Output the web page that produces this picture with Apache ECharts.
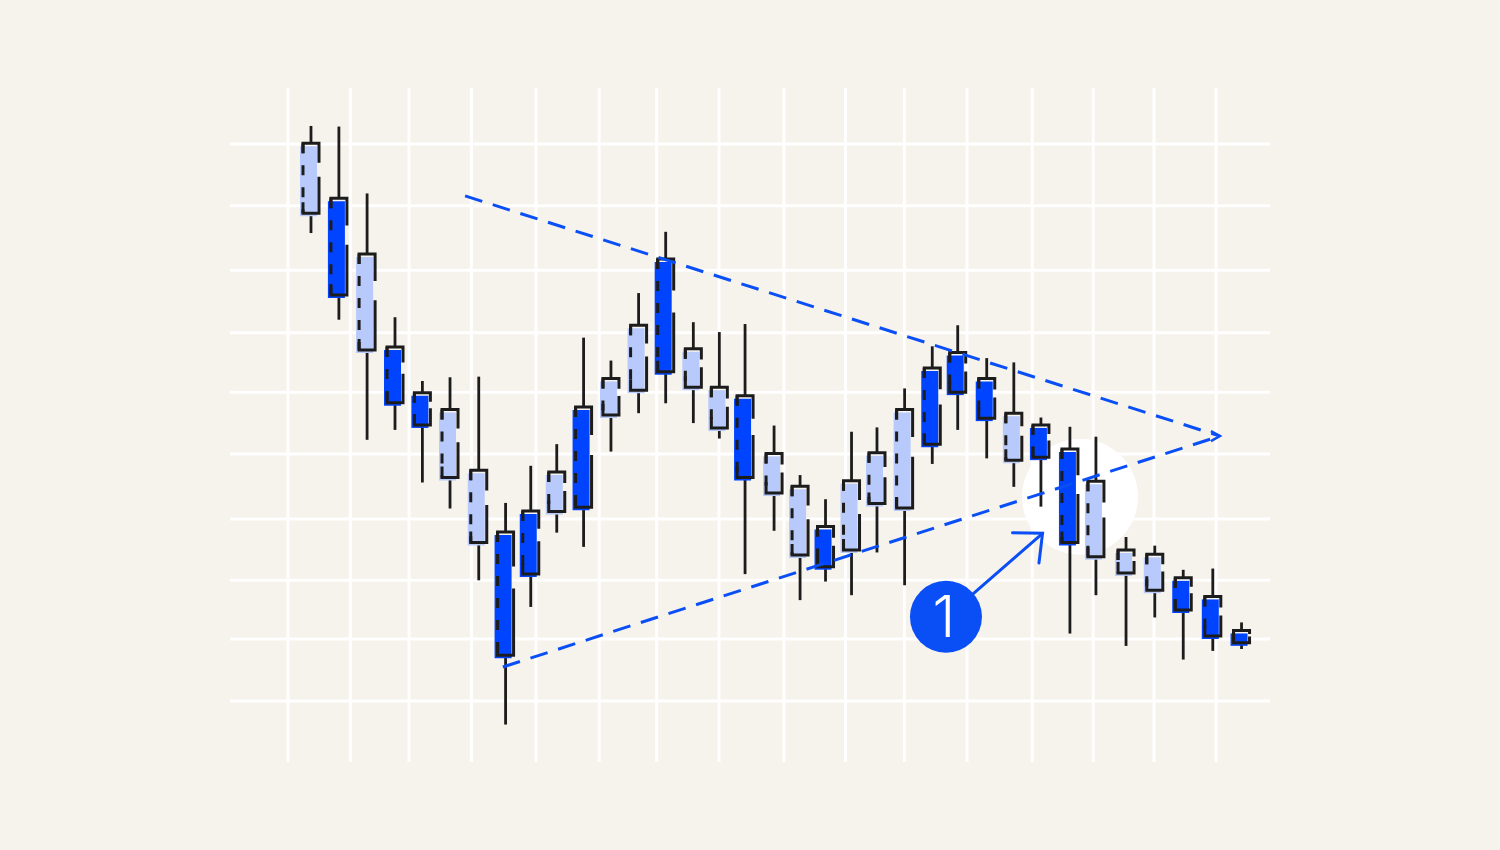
<!DOCTYPE html>
<html>
<head>
<meta charset="utf-8">
<script src="https://cdn.jsdelivr.net/npm/echarts@6/dist/echarts.min.js"></script>
<style>
  html, body { margin: 0; padding: 0; background: #f6f2ec; }
  #chart { width: 1500px; height: 850px; }
</style>
</head>
<body>
<div id="chart"></div>
<script>
// Time position of each trading session (sessions are not evenly spaced)
const sessionTimes = [1.00, 2.02, 3.05, 4.07, 5.07, 6.08, 7.13, 8.11, 9.03, 9.98,
                      10.96, 11.96, 12.97, 13.96, 14.97, 15.92, 16.86, 17.92, 18.87, 19.80,
                      20.75, 21.68, 22.69, 23.70, 24.63, 25.69, 26.68, 27.67, 28.73, 29.68,
                      30.78, 31.83, 32.87, 33.95, 35.00];
// OHLC prices per session
const opens  = [178.8, 181.2, 156.7, 157.2, 149.8, 136.1, 125.6, 127.3, 130.7, 130.6,
                147.5, 146.2, 150.2, 171.4, 150.7, 144.1, 149.3, 133.6, 123.6, 128.2,
                124.4, 131.9, 131.2, 153.8, 156.3, 152.1, 138.9, 144.6, 140.7, 123.3,
                120.7, 117.9, 119.9, 116.9, 111.4];
const closes = [190.1, 165.6, 172.2, 148.2, 144.6, 147.1, 137.3, 107.4, 120.5, 137.0,
                131.3, 152.1, 160.7, 153.2, 156.9, 150.7, 136.1, 140.0, 134.7, 121.7,
                135.6, 140.1, 147.1, 141.5, 149.9, 145.7, 146.5, 139.4, 125.6, 135.5,
                124.4, 123.7, 114.7, 110.5, 109.4];
const lows   = [175.6, 161.6, 142.2, 143.8, 135.3, 131.1, 119.5, 96.2, 115.2, 127.2,
                124.9, 140.3, 146.5, 148.1, 144.9, 142.4, 120.5, 127.5, 116.3, 119.3,
                117.1, 124.0, 118.7, 138.3, 143.8, 139.2, 134.6, 131.4, 110.9, 117.1,
                108.9, 113.5, 106.7, 108.1, 108.4];
const highs  = [192.9, 192.8, 182.0, 162.0, 151.7, 152.3, 152.4, 132.0, 138.0, 141.5,
                158.7, 155.0, 165.9, 175.8, 161.2, 159.6, 160.9, 144.5, 136.5, 132.6,
                143.5, 144.2, 150.5, 157.3, 160.7, 155.4, 154.7, 145.8, 144.3, 142.7,
                126.5, 125.1, 121.2, 121.4, 112.7];

// Grid line positions (time units / price units)
const gridTimes = [0.16, 2.44, 4.58, 6.86, 9.22, 11.53, 13.63, 15.91, 18.28, 20.53,
                   22.68, 24.97, 27.35, 29.58, 31.80, 34.07];
const gridPrices = [100.0, 110.0, 119.5, 129.4, 139.9, 149.9, 159.5, 169.6, 180.0, 190.0];

// Symmetrical triangle boundaries, meeting at the apex
const upperTrend = [[6.63, 181.6], [34.21, 142.8]];
const lowerTrend = [[8.01, 105.5], [34.21, 142.8]];

// Breakout highlight and numbered callout
const breakoutFocus = [29.10, 133.0];
const calloutCenter = [24.20, 113.6];
const calloutText = '1';
const arrowFrom = [25.19, 117.3];
const arrowTo = [27.73, 127.1];

const COLORS = {
  bg: '#f6f2ec',
  grid: '#ffffff',
  up: '#b8cafc',
  down: '#0044ff',
  ink: '#1c1c1c',
  accent: '#0a4ff5'
};

const X_MIN = -1.959, X_MAX = 36.04;
const Y_MIN = 90.15, Y_MAX = 199.03;

const candleData = sessionTimes.map((t, i) => [t, opens[i], closes[i], lows[i], highs[i]]);

function renderGridLine(vertical) {
  return function (params, api) {
    const v = api.value(0);
    const a = vertical ? api.coord([v, Y_MIN]) : api.coord([X_MIN, v]);
    const b = vertical ? api.coord([v, Y_MAX]) : api.coord([X_MAX, v]);
    return {
      type: 'line',
      shape: { x1: a[0], y1: a[1], x2: b[0], y2: b[1] },
      style: { stroke: COLORS.grid, lineWidth: 3 }
    };
  };
}

// Hand-drawn style candle: offset fill, outline with a broken right edge and dashed left edge
function renderCandle(params, api) {
  const x = api.value(0), o = api.value(1), c = api.value(2), l = api.value(3), h = api.value(4);
  const top = api.coord([x, Math.max(o, c)]);
  const bot = api.coord([x, Math.min(o, c)]);
  const hi = api.coord([x, h]);
  const lo = api.coord([x, l]);
  const cx = top[0];
  const L = cx - 8, R = cx + 8;
  const yT = top[1], yB = bot[1];
  const hgt = yB - yT;
  const fill = c >= o ? COLORS.up : COLORS.down;
  const stroke = { stroke: COLORS.ink, lineWidth: 3, fill: 'none', lineCap: 'butt', lineJoin: 'miter' };
  const gapStart = yT + hgt * 0.28;
  const gapLen = Math.min(22, Math.max(2, hgt * 0.2));
  return {
    type: 'group',
    children: [
      { type: 'line', shape: { x1: cx, y1: hi[1], x2: cx, y2: yT }, style: { stroke: COLORS.ink, lineWidth: 2.8 } },
      { type: 'line', shape: { x1: cx, y1: yB, x2: cx, y2: lo[1] }, style: { stroke: COLORS.ink, lineWidth: 2.8 } },
      { type: 'rect', shape: { x: cx - 11, y: yT + 3, width: 17, height: hgt }, style: { fill: fill } },
      { type: 'polyline', shape: { points: [[L, yT + 10], [L, yT], [R, yT], [R, gapStart]] }, style: stroke },
      { type: 'polyline', shape: { points: [[L, yB - 11], [L, yB], [R, yB], [R, gapStart + gapLen]] }, style: stroke },
      { type: 'line', shape: { x1: L, y1: yT, x2: L, y2: yB },
        style: { stroke: COLORS.ink, lineWidth: 3, lineDash: [10, 12] } }
    ]
  };
}

function renderFocus(params, api) {
  const p = api.coord([api.value(0), api.value(1)]);
  return { type: 'circle', shape: { cx: p[0], cy: p[1], r: 58 }, style: { fill: '#ffffff' } };
}

function renderCallout(params, api) {
  const c = api.coord(calloutCenter);
  const a = api.coord(arrowFrom);
  const b = api.coord(arrowTo);
  const apex = api.coord(upperTrend[1]);
  const dx = b[0] - a[0], dy = b[1] - a[1];
  const len = Math.hypot(dx, dy);
  const ux = -dx / len, uy = -dy / len;
  const ang = 42 * Math.PI / 180, arm = 30;
  const rot = (t) => [b[0] + arm * (ux * Math.cos(t) - uy * Math.sin(t)),
                      b[1] + arm * (ux * Math.sin(t) + uy * Math.cos(t))];
  const line = { stroke: COLORS.accent, lineWidth: 3, fill: 'none', lineCap: 'round' };
  return {
    type: 'group',
    children: [
      { type: 'polyline', shape: { points: [[apex[0] - 9, apex[1] - 5], [apex[0], apex[1]], [apex[0] - 9, apex[1] + 5]] },
        style: { stroke: COLORS.accent, lineWidth: 2.5, fill: 'none' } },
      { type: 'line', shape: { x1: a[0], y1: a[1], x2: b[0], y2: b[1] }, style: line },
      { type: 'polyline', shape: { points: [rot(ang), b, rot(-ang)] }, style: line },
      { type: 'circle', shape: { cx: c[0], cy: c[1], r: 36 }, style: { fill: COLORS.accent } },
      { type: 'text', x: c[0] - 2, y: c[1] + 3,
        style: { text: calloutText, fill: '#ffffff', font: '300 58px Inter, "Noto Sans", sans-serif',
                 align: 'center', verticalAlign: 'middle' } }
    ]
  };
}

const trendLine = (data) => ({
  type: 'line',
  data: data,
  z: 4,
  silent: true,
  showSymbol: false,
  symbol: 'none',
  lineStyle: { color: COLORS.accent, width: 3, type: [18, 11], cap: 'butt' }
});

const chart = echarts.init(document.getElementById('chart'), null, { renderer: 'canvas' });
chart.setOption({
  animation: false,
  backgroundColor: COLORS.bg,
  grid: { left: 230, top: 88, width: 1040, height: 674 },
  xAxis: { type: 'value', min: X_MIN, max: X_MAX, show: false },
  yAxis: { type: 'value', min: Y_MIN, max: Y_MAX, show: false },
  series: [
    { type: 'custom', z: 1, silent: true, clip: false, data: gridTimes.map(v => [v]), renderItem: renderGridLine(true) },
    { type: 'custom', z: 1, silent: true, clip: false, data: gridPrices.map(v => [v]), renderItem: renderGridLine(false) },
    { type: 'custom', z: 2, silent: true, clip: false, data: [breakoutFocus], renderItem: renderFocus },
    { type: 'custom', z: 3, silent: true, clip: false, data: candleData, renderItem: renderCandle },
    trendLine(upperTrend),
    trendLine(lowerTrend),
    { type: 'custom', z: 5, silent: true, clip: false, data: [[0]], renderItem: renderCallout }
  ]
});
</script>
</body>
</html>
